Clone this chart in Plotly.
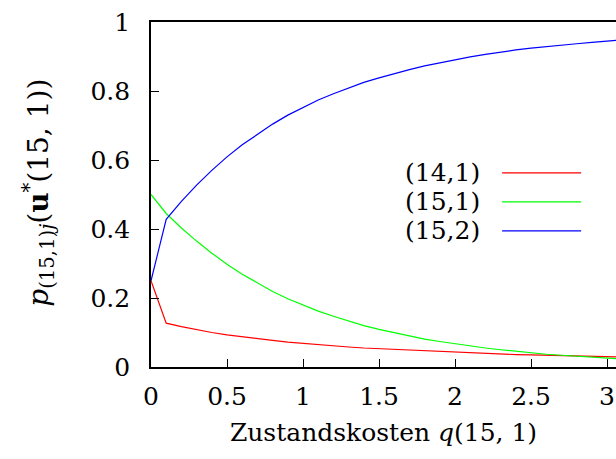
import plotly.graph_objects as go

# Data
q_values = [0.0, 0.1, 0.2, 0.3, 0.4, 0.5, 0.6, 0.7, 0.8, 0.9, 1.0,
            1.1, 1.2, 1.3, 1.4, 1.5, 1.6, 1.7, 1.8, 1.9, 2.0,
            2.1, 2.2, 2.3, 2.4, 2.5, 2.6, 2.7, 2.8, 2.9, 3.0, 3.1]

p_14_1 = [0.25, 0.127, 0.117, 0.108, 0.100, 0.093, 0.087, 0.082, 0.077, 0.072, 0.068,
          0.064, 0.061, 0.058, 0.055, 0.053, 0.050, 0.048, 0.046, 0.044, 0.042,
          0.040, 0.039, 0.037, 0.036, 0.035, 0.034, 0.033, 0.032, 0.031, 0.030, 0.029]

p_15_1 = [0.50, 0.445, 0.403, 0.365, 0.330, 0.298, 0.269, 0.243, 0.219, 0.198, 0.179,
          0.162, 0.147, 0.133, 0.120, 0.109, 0.099, 0.090, 0.081, 0.074, 0.067,
          0.061, 0.055, 0.050, 0.045, 0.041, 0.037, 0.034, 0.031, 0.028, 0.025, 0.023]

p_15_2 = [0.25, 0.428, 0.480, 0.527, 0.570, 0.609, 0.644, 0.675, 0.704, 0.730, 0.753,
          0.774, 0.792, 0.809, 0.825, 0.838, 0.851, 0.862, 0.873, 0.882, 0.891,
          0.899, 0.906, 0.913, 0.919, 0.924, 0.929, 0.933, 0.937, 0.941, 0.945, 0.948]

series_names = ["(14,1)", "(15,1)", "(15,2)"]
series_colors = ["#ff0000", "#00ff00", "#0000ff"]
series_values = [p_14_1, p_15_1, p_15_2]

x_ticks = [0, 0.5, 1, 1.5, 2, 2.5, 3]
x_tick_labels = ["0", "0.5", "1", "1.5", "2", "2.5", "3"]
y_ticks = [0, 0.2, 0.4, 0.6, 0.8, 1]
y_tick_labels = ["0", "0.2", "0.4", "0.6", "0.8", "1"]

FONT = "DejaVu Serif"

fig = go.Figure()
for name, color, vals in zip(series_names, series_colors, series_values):
    fig.add_trace(go.Scatter(x=q_values, y=vals, mode="lines", name=name,
                             line=dict(color=color, width=1.2), showlegend=False))

# gnuplot-style key: text on left, line sample on right
legend_rows_y = [0.5625, 0.4786, 0.3947]
for name, color, yy in zip(series_names, series_colors, legend_rows_y):
    fig.add_annotation(x=0.712, y=yy, xref="paper", yref="paper", text=name,
                       showarrow=False, xanchor="right", yanchor="middle",
                       font=dict(family=FONT, size=25, color="black"))
    fig.add_shape(type="line", xref="paper", yref="paper",
                  x0=0.755, x1=0.925, y0=yy, y1=yy,
                  line=dict(color=color, width=1.2))

# y-axis title placed as a rotated annotation
fig.add_annotation(x=-0.241, y=0.505, xref="paper", yref="paper",
                   text="<i>p</i><sub>(15,1)<i>j</i></sub>(<b>u</b><sup>*</sup>(15, 1))",
                   textangle=-90, showarrow=False, xanchor="center", yanchor="middle",
                   font=dict(family=FONT, size=28, color="black"))

fig.update_layout(
    width=616, height=459,
    margin=dict(l=151, r=0, t=22, b=92),
    paper_bgcolor="white", plot_bgcolor="white",
    font=dict(family=FONT, size=25, color="black"),
    xaxis=dict(range=[0, 3.059], tickmode="array", tickvals=x_ticks, ticktext=x_tick_labels,
               ticks="inside", ticklen=8, tickwidth=1, tickcolor="black",
               showline=True, linecolor="black", linewidth=1.6, mirror=True,
               showgrid=False, zeroline=False, ticklabelstandoff=6,
               title=dict(text="Zustandskosten <i>q</i>(15, 1)", standoff=14,
                          font=dict(family=FONT, size=25))),
    yaxis=dict(range=[0, 1], tickmode="array", tickvals=y_ticks, ticktext=y_tick_labels,
               ticks="inside", ticklen=8, tickwidth=1, tickcolor="black",
               showline=True, linecolor="black", linewidth=1.6, mirror=False,
               showgrid=False, zeroline=False, ticklabelstandoff=14),
)

fig.write_html("out.html")
